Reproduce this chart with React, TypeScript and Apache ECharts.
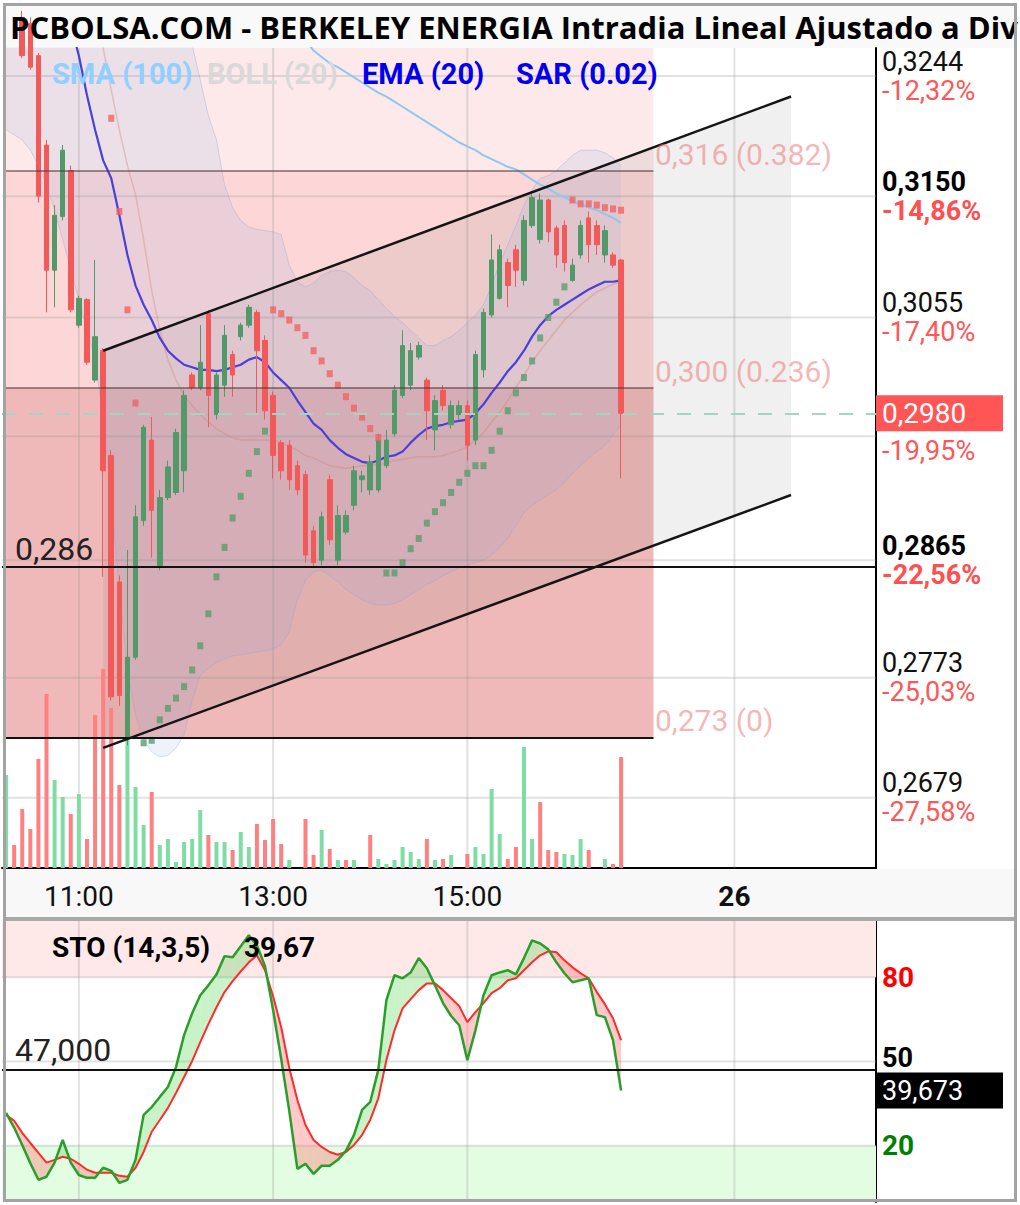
import React, { useEffect, useRef } from "react";
import * as echarts from "echarts";

// ---------- time slots (5-minute candles) ----------
const SLOT_COUNT = 108;
const categories: string[] = [];
for (let i = 0; i < SLOT_COUNT; i++) {
  let m = 10 * 60 + 15 + i * 5;
  let pre = "";
  if (m > 17 * 60 + 30) {
    m = 9 * 60 + (m - (17 * 60 + 35));
    pre = "26 ";
  }
  categories.push(pre + String(Math.floor(m / 60)).padStart(2, "0") + ":" + String(m % 60).padStart(2, "0"));
}
const timeTickIndex = [9, 33, 57, 90];
const timeTickText = ["11:00", "13:00", "15:00", "26"];

// ---------- candles ----------
const opens = [0.3310, 0.3305, 0.3290, 0.3285, 0.3260, 0.3190, 0.3092, 0.3134, 0.3170, 0.3049,
  0.3069, 0.3006, 0.3029, 0.2947, 0.2848, 0.2726, 0.2789, 0.2896, 0.2959, 0.2860,
  0.2914, 0.2918, 0.2935, 0.3010, 0.3000, 0.3058, 0.2979, 0.3002, 0.3026, 0.3040,
  0.3049, 0.3059, 0.3037, 0.2994, 0.2957, 0.2955, 0.2939, 0.2932, 0.2888, 0.2865,
  0.2928, 0.2865, 0.2887, 0.2908, 0.2928, 0.2920, 0.2920, 0.2939, 0.2964, 0.2994,
  0.3002, 0.3024, 0.3006, 0.2967, 0.2998, 0.2971, 0.2979, 0.2986, 0.2959, 0.3014,
  0.3057, 0.3070, 0.3098, 0.3108, 0.3084, 0.3127, 0.3116, 0.3147, 0.3125, 0.3127,
  0.3084, 0.3104, 0.3133, 0.3127, 0.3104, 0.3104, 0.3100];
const closes = [0.3290, 0.3285, 0.3260, 0.3251, 0.3150, 0.3092, 0.3135, 0.3186, 0.3061, 0.3070,
  0.3020, 0.3040, 0.2935, 0.2758, 0.2759, 0.2789, 0.2899, 0.2969, 0.2904, 0.2914,
  0.2938, 0.2965, 0.2994, 0.3000, 0.3020, 0.2994, 0.3010, 0.3041, 0.3010, 0.3049,
  0.3063, 0.3029, 0.2982, 0.2947, 0.2935, 0.2928, 0.2920, 0.2869, 0.2863, 0.2899,
  0.2881, 0.2900, 0.2900, 0.2935, 0.2931, 0.2942, 0.2959, 0.2959, 0.2998, 0.3033,
  0.3029, 0.3033, 0.2982, 0.2990, 0.2986, 0.2986, 0.2986, 0.2955, 0.3026, 0.3059,
  0.3100, 0.3108, 0.3080, 0.3092, 0.3131, 0.3149, 0.3147, 0.3122, 0.3104, 0.3098,
  0.3096, 0.3127, 0.3112, 0.3112, 0.3123, 0.3096, 0.2980];
const lows = [0.3285, 0.3280, 0.3258, 0.3249, 0.3145, 0.3059, 0.3063, 0.3131, 0.3059, 0.3047,
  0.3018, 0.3004, 0.2852, 0.2755, 0.2751, 0.2720, 0.2787, 0.2892, 0.2867, 0.2857,
  0.2912, 0.2916, 0.2918, 0.2998, 0.2998, 0.2969, 0.2975, 0.2993, 0.2993, 0.3037,
  0.3047, 0.2980, 0.2975, 0.2929, 0.2928, 0.2920, 0.2916, 0.2863, 0.2860, 0.2861,
  0.2877, 0.2861, 0.2885, 0.2904, 0.2918, 0.2916, 0.2918, 0.2937, 0.2962, 0.2992,
  0.2998, 0.3022, 0.2959, 0.2951, 0.2982, 0.2968, 0.2975, 0.2943, 0.2955, 0.3008,
  0.3055, 0.3069, 0.3063, 0.3079, 0.3080, 0.3125, 0.3113, 0.3114, 0.3094, 0.3091,
  0.3083, 0.3101, 0.3098, 0.3104, 0.3098, 0.3094, 0.2929];
const highs = [0.3315, 0.3310, 0.3295, 0.3290, 0.3262, 0.3194, 0.3143, 0.3190, 0.3174, 0.3072,
  0.3070, 0.3100, 0.3031, 0.2951, 0.2853, 0.2873, 0.2908, 0.2971, 0.2977, 0.2920,
  0.2943, 0.2968, 0.2998, 0.3012, 0.3049, 0.3061, 0.3012, 0.3049, 0.3029, 0.3051,
  0.3065, 0.3061, 0.3041, 0.2997, 0.2959, 0.2959, 0.2943, 0.2935, 0.2892, 0.2903,
  0.2932, 0.2908, 0.2904, 0.2939, 0.2935, 0.2947, 0.2964, 0.2967, 0.3002, 0.3045,
  0.3035, 0.3036, 0.3008, 0.2994, 0.3002, 0.2990, 0.2990, 0.2990, 0.3029, 0.3062,
  0.3120, 0.3112, 0.3101, 0.3112, 0.3135, 0.3152, 0.3152, 0.3148, 0.3127, 0.3131,
  0.3101, 0.3131, 0.3138, 0.3131, 0.3127, 0.3106, 0.3101];

// ---------- volume (thousands) ----------
const volumes = [93, 23, 59, 39, 109, 174, 88, 71, 54, 74,
  29, 153, 199, 160, 83, 129, 81, 43, 76, 23,
  29, 6, 26, 29, 58, 33, 26, 26, 18, 36,
  21, 44, 28, 49, 24, 8, 0, 49, 13, 38,
  19, 8, 8, 8, 0, 33, 9, 4, 8, 21,
  16, 9, 29, 8, 9, 13, 0, 14, 21, 14,
  79, 34, 9, 21, 121, 29, 66, 18, 16, 14,
  13, 29, 18, 0, 9, 4, 111];
const volumeDir = ("uddddduudu" + "ddddduuudu" + "uuuuuduudu" + "udddduuddu" + "duduuduuuu" +
  "uududuuduu" + "uudduudddu" + "uuduudd").split("");

// ---------- indicators ----------
const bollUpper = [0.3600, 0.3590, 0.3580, 0.3570, 0.3560, 0.3550, 0.3540, 0.3530, 0.3515, 0.3500,
  0.3485, 0.3470, 0.3455, 0.3440, 0.3425, 0.3410, 0.3395, 0.3380, 0.3365, 0.3350,
  0.3330, 0.3310, 0.3288, 0.3268, 0.3241, 0.3213, 0.3194, 0.3159, 0.3141, 0.3131,
  0.3126, 0.3124, 0.3123, 0.3122, 0.3120, 0.3096, 0.3083, 0.3079, 0.3082, 0.3088,
  0.3091, 0.3092, 0.3091, 0.3086, 0.3080, 0.3076, 0.3069, 0.3062, 0.3056, 0.3051,
  0.3045, 0.3039, 0.3033, 0.3033, 0.3037, 0.3040, 0.3045, 0.3051, 0.3057, 0.3065,
  0.3080, 0.3098, 0.3112, 0.3127, 0.3143, 0.3155, 0.3164, 0.3166, 0.3170, 0.3176,
  0.3182, 0.3186, 0.3186, 0.3186, 0.3184, 0.3180, 0.3174];
const bollLower = [0.3202, 0.3198, 0.3194, 0.3186, 0.3174, 0.3159, 0.3139, 0.3116, 0.3092, 0.3069,
  0.3045, 0.3022, 0.2975, 0.2912, 0.2842, 0.2779, 0.2744, 0.2724, 0.2715, 0.2711,
  0.2712, 0.2718, 0.2728, 0.2755, 0.2775, 0.2780, 0.2785, 0.2788, 0.2790, 0.2791,
  0.2792, 0.2793, 0.2794, 0.2795, 0.2799, 0.2809, 0.2834, 0.2849, 0.2856, 0.2857,
  0.2853, 0.2848, 0.2842, 0.2838, 0.2834, 0.2831, 0.2830, 0.2830, 0.2831, 0.2834,
  0.2838, 0.2842, 0.2846, 0.2849, 0.2853, 0.2856, 0.2859, 0.2861, 0.2863, 0.2865,
  0.2869, 0.2875, 0.2882, 0.2892, 0.2902, 0.2908, 0.2912, 0.2916, 0.2920, 0.2926,
  0.2933, 0.2939, 0.2945, 0.2950, 0.2955, 0.2963, 0.2971];
const bollMiddle = [0.3400, 0.3395, 0.3390, 0.3383, 0.3375, 0.3365, 0.3352, 0.3340, 0.3327, 0.3313,
  0.3298, 0.3283, 0.3266, 0.3233, 0.3202, 0.3174, 0.3151, 0.3116, 0.3076, 0.3045,
  0.3022, 0.3006, 0.2994, 0.2986, 0.2979, 0.2973, 0.2968, 0.2964, 0.2961, 0.2959,
  0.2959, 0.2959, 0.2959, 0.2959, 0.2957, 0.2954, 0.2951, 0.2947, 0.2945, 0.2942,
  0.2939, 0.2938, 0.2937, 0.2938, 0.2939, 0.2939, 0.2940, 0.2941, 0.2943, 0.2944,
  0.2945, 0.2946, 0.2946, 0.2946, 0.2947, 0.2949, 0.2951, 0.2954, 0.2959, 0.2965,
  0.2973, 0.2981, 0.2990, 0.3000, 0.3010, 0.3020, 0.3029, 0.3037, 0.3045, 0.3053,
  0.3059, 0.3065, 0.3070, 0.3075, 0.3078, 0.3081, 0.3083];
const ema20 = [0.3405, 0.3390, 0.3375, 0.3360, 0.3345, 0.3330, 0.3315, 0.3300, 0.3284, 0.3260,
  0.3229, 0.3202, 0.3178, 0.3164, 0.3135, 0.3104, 0.3080, 0.3065, 0.3053, 0.3039,
  0.3029, 0.3023, 0.3018, 0.3016, 0.3014, 0.3014, 0.3013, 0.3014, 0.3016, 0.3018,
  0.3022, 0.3024, 0.3020, 0.3012, 0.3006, 0.3000, 0.2990, 0.2981, 0.2972, 0.2967,
  0.2959, 0.2953, 0.2948, 0.2945, 0.2942, 0.2941, 0.2943, 0.2946, 0.2947, 0.2950,
  0.2957, 0.2963, 0.2968, 0.2970, 0.2971, 0.2973, 0.2974, 0.2975, 0.2980, 0.2987,
  0.2996, 0.3004, 0.3013, 0.3020, 0.3029, 0.3040, 0.3049, 0.3056, 0.3061, 0.3065,
  0.3069, 0.3073, 0.3077, 0.3080, 0.3083, 0.3083, 0.3084];
const sma100 = [null, null, null, null, null, null, null, null, null, null,
  null, null, null, null, null, null, null, null, null, null,
  null, null, null, null, null, null, null, null, null, null,
  0.3300, 0.3296, 0.3292, 0.3288, 0.3284, 0.3280, 0.3276, 0.3272, 0.3264, 0.3259,
  0.3254, 0.3251, 0.3247, 0.3243, 0.3239, 0.3235, 0.3231, 0.3228, 0.3224, 0.3220,
  0.3216, 0.3212, 0.3208, 0.3204, 0.3200, 0.3196, 0.3192, 0.3189, 0.3186, 0.3182,
  0.3179, 0.3176, 0.3173, 0.3171, 0.3167, 0.3163, 0.3159, 0.3156, 0.3152, 0.3149,
  0.3146, 0.3144, 0.3141, 0.3139, 0.3136, 0.3133, 0.3129];
const sar = [null, null, null, null, null, null, null, null, null, null,
  null, null, null, 0.3211, 0.3138, 0.3061, 0.2988, 0.2722, 0.2724, 0.2740,
  0.2749, 0.2757, 0.2766, 0.2779, 0.2798, 0.2823, 0.2852, 0.2875, 0.2898, 0.2915,
  0.2933, 0.2950, 0.2966, 0.3061, 0.3058, 0.3053, 0.3047, 0.3041, 0.3029, 0.3021,
  0.3011, 0.3002, 0.2993, 0.2984, 0.2977, 0.2968, 0.2961, 0.2855, 0.2855, 0.2863,
  0.2874, 0.2882, 0.2894, 0.2903, 0.2910, 0.2918, 0.2926, 0.2933, 0.2939, 0.2939,
  0.2951, 0.2966, 0.2982, 0.2996, 0.3008, 0.3021, 0.3039, 0.3055, 0.3067, 0.3079,
  0.3147, 0.3144, 0.3144, 0.3143, 0.3141, 0.3140, 0.3139];

// ---------- stochastic ----------
const stochK = [31.7, 26.5, 20.3, 13.8, 7.9, 9.0, 14.0, 22.1, 14.0, 9.6,
  8.6, 8.6, 12.2, 11.1, 6.8, 7.9, 15.0, 31.0, 33.8, 37.4,
  40.9, 48.0, 59.4, 67.2, 73.6, 77.1, 81.0, 87.5, 87.1, 91.0,
  94.9, 91.4, 83.9, 68.3, 50.9, 32.4, 11.8, 13.6, 10.0, 12.9,
  12.9, 15.0, 18.2, 23.9, 32.8, 35.6, 47.0, 71.8, 80.7, 79.6,
  81.7, 86.8, 83.2, 77.1, 70.8, 66.2, 62.9, 50.5, 61.1, 73.6,
  80.7, 81.7, 82.5, 81.0, 86.8, 93.1, 92.0, 89.9, 85.3, 81.4,
  78.2, 78.9, 79.6, 66.5, 65.8, 57.6, 39.673];
const stochD = [31.0, 28.9, 24.6, 21.0, 17.5, 14.0, 15.0, 16.1, 15.4, 13.6,
  11.5, 10.4, 10.4, 10.4, 9.3, 9.0, 12.2, 17.8, 25.0, 29.2,
  33.5, 38.8, 44.5, 50.2, 56.9, 63.3, 69.3, 74.7, 78.6, 82.1,
  85.3, 87.8, 82.5, 73.2, 62.2, 47.7, 36.3, 27.4, 22.1, 19.6,
  17.8, 16.8, 17.8, 20.3, 23.9, 29.2, 36.9, 50.5, 61.1, 68.9,
  72.2, 75.4, 77.8, 77.8, 75.4, 72.5, 69.7, 64.0, 67.6, 70.8,
  74.3, 76.1, 78.9, 79.6, 82.5, 85.3, 87.8, 89.2, 88.9, 86.0,
  83.5, 81.4, 79.6, 74.7, 70.4, 65.4, 57.6];

// ---------- axis ticks / levels ----------
const priceTicks = [0.3244, 0.3150, 0.3055, 0.2962, 0.2865, 0.2773, 0.2679];
const priceTickText = ["0,3244", "0,3150", "0,3055", "0,2962", "0,2865", "0,2773", "0,2679"];
const pctTickText = ["-12,32%", "-14,86%", "-17,40%", "-19,95%", "-22,56%", "-25,03%", "-27,58%"];
const priceTickBold = [false, true, false, false, true, false, false];
const priceTickHidden = [false, false, false, true, false, false, false];
const stochTicks = [20, 50, 80];
const fibLevels = [0.3170, 0.3000, 0.2726];
const fibText = ["0,316 (0.382)", "0,300 (0.236)", "0,273 (0)"];
const fibEndIndex = 80;
const supportLevel = 0.286;
const stochLevel = 47;
const lastPrice = 0.298;
const lastStoch = 39.673;
const channelX = [12, 97];
const channelUpper = [0.3029, 0.3228];
const channelLower = [0.2718, 0.2916];

const RED = "#f25a5a";
const GREEN = "#52996a";
const GRID_COLOR = "rgba(150,150,150,0.28)";

function buildOption(): any {
  const candleData = opens.map((o, i) => [o, closes[i], lows[i], highs[i]]);
  const volData = volumes.map((v, i) => ({
    value: v,
    itemStyle: { color: volumeDir[i] === "u" ? "#7fdca4" : "#ff8080" },
  }));
  const bandDiff = bollUpper.map((u, i) => +(u - bollLower[i]).toFixed(4));
  const sarData: any[] = [];
  sar.forEach((v, i) => {
    if (v != null) sarData.push({ value: [i, v], itemStyle: { color: v > closes[i] ? "#f26262" : "#5a9c6e" } });
  });
  const nulls = closes.map(() => null);

  const hGridRender = (ticks: number[]) => (params: any, api: any) => {
    const cs = params.coordSys;
    const y = api.coord([0, ticks[params.dataIndex]])[1];
    return { type: "line", shape: { x1: cs.x, y1: y, x2: cs.x + cs.width, y2: y }, style: { stroke: GRID_COLOR, lineWidth: 2 } };
  };
  const vGridRender = (yRef: number) => (params: any, api: any) => {
    const cs = params.coordSys;
    const x = api.coord([timeTickIndex[params.dataIndex], yRef])[0];
    return { type: "line", shape: { x1: x, y1: cs.y, x2: x, y2: cs.y + cs.height }, style: { stroke: GRID_COLOR, lineWidth: 2 } };
  };

  const priceFormatter = (v: number) => {
    const idx = priceTicks.findIndex((t) => Math.abs(t - v) < 1e-7);
    if (idx < 0) return "";
    const b = priceTickBold[idx];
    const top = priceTickHidden[idx] ? "{p| }" : `{${b ? "pb" : "p"}|${priceTickText[idx]}}`;
    return `${top}\n{${b ? "qb" : "q"}|${pctTickText[idx]}}`;
  };

  const FONT = "Roboto";

  return {
    animation: false,
    backgroundColor: "#ffffff",
    textStyle: { fontFamily: FONT },
    grid: [
      { left: 2, right: 144, top: 48, bottom: 337 },
      { left: 2, right: 144, top: 921, bottom: 3 },
    ],
    xAxis: [
      {
        gridIndex: 0, type: "category", data: categories, boundaryGap: true,
        axisLine: { onZero: false, lineStyle: { color: "#000", width: 2 } },
        axisTick: { show: false }, splitLine: { show: false },
        axisLabel: {
          interval: (i: number) => timeTickIndex.indexOf(i) >= 0,
          formatter: (_v: string, i: number) => {
            const k = timeTickIndex.indexOf(i);
            if (k < 0) return "";
            return timeTickText[k] === "26" ? `{b|${timeTickText[k]}}` : `{n|${timeTickText[k]}}`;
          },
          margin: 14,
          rich: {
            n: { fontSize: 28, color: "#111", fontFamily: FONT },
            b: { fontSize: 28, color: "#111", fontWeight: "bold", fontFamily: FONT },
          },
        },
      },
      {
        gridIndex: 1, type: "category", data: categories, boundaryGap: true,
        axisLine: { show: false }, axisTick: { show: false }, axisLabel: { show: false }, splitLine: { show: false },
      },
    ],
    yAxis: [
      {
        gridIndex: 0, type: "value", position: "right", min: 0.2624, max: 0.3266,
        axisLine: { show: true, lineStyle: { color: "#000", width: 2 } },
        axisTick: { show: false }, splitLine: { show: false },
        axisLabel: {
          customValues: priceTicks, margin: 6, formatter: priceFormatter,
          rich: {
            p: { fontSize: 27, color: "#111", lineHeight: 29, fontFamily: FONT },
            pb: { fontSize: 27, color: "#000", lineHeight: 29, fontWeight: "bold", fontFamily: FONT },
            q: { fontSize: 27, color: "#ff5757", lineHeight: 29, fontFamily: FONT },
            qb: { fontSize: 27, color: "#ff4f4f", lineHeight: 29, fontWeight: "bold", fontFamily: FONT },
          },
        },
      },
      { gridIndex: 0, type: "value", min: 0, max: 820, show: false },
      {
        gridIndex: 1, type: "value", position: "right", min: 0, max: 100,
        axisLine: { show: true, lineStyle: { color: "#000", width: 2 } },
        axisTick: { show: false }, splitLine: { show: false },
        axisLabel: {
          customValues: stochTicks, margin: 6,
          formatter: (v: number) => (v === 80 ? "{r|80}" : v === 50 ? "{k|50}" : "{g|20}"),
          rich: {
            r: { fontSize: 28, color: "#ff0000", fontWeight: "bold", fontFamily: FONT, lineHeight: 22 },
            k: { fontSize: 27, color: "#000", fontWeight: "bold", fontFamily: FONT, lineHeight: 20, padding: [0, 0, 8, 0] },
            g: { fontSize: 28, color: "#008000", fontWeight: "bold", fontFamily: FONT, lineHeight: 22 },
          },
        },
      },
    ],
    series: [
      // Fibonacci zones (background)
      {
        type: "line", xAxisIndex: 0, yAxisIndex: 0, data: nulls, silent: true, symbol: "none",
        markArea: {
          silent: true,
          data: [
            [{ xAxis: 0, yAxis: fibLevels[0], itemStyle: { color: "#fde9e9" } }, { xAxis: fibEndIndex, yAxis: 0.3266 }],
            [{ xAxis: 0, yAxis: fibLevels[1], itemStyle: { color: "#fdd7d7" } }, { xAxis: fibEndIndex, yAxis: fibLevels[0] }],
            [{ xAxis: 0, yAxis: fibLevels[2], itemStyle: { color: "#f0b9b9" } }, { xAxis: fibEndIndex, yAxis: fibLevels[1] }],
          ],
        },
      },
      // grid lines main
      {
        type: "custom", xAxisIndex: 0, yAxisIndex: 0, z: 2, silent: true,
        data: priceTicks.map((t) => [0, t]), encode: { x: 0, y: 1 },
        renderItem: hGridRender(priceTicks),
      },
      {
        type: "custom", xAxisIndex: 0, yAxisIndex: 0, z: 2, silent: true,
        data: timeTickIndex.map((t) => [t, 0.29]), encode: { x: 0, y: 1 },
        renderItem: vGridRender(0.29),
      },
      // channel fill
      {
        type: "custom", xAxisIndex: 0, yAxisIndex: 0, z: 2, silent: true,
        data: [[channelX[0], channelUpper[0]]], encode: { x: 0, y: 1 },
        renderItem: (_p: any, api: any) => ({
          type: "polygon",
          shape: {
            points: [
              api.coord([channelX[0], channelUpper[0]]),
              api.coord([channelX[1], channelUpper[1]]),
              api.coord([channelX[1], channelLower[1]]),
              api.coord([channelX[0], channelLower[0]]),
            ],
          },
          style: { fill: "rgba(70,70,70,0.08)" },
        }),
      },
      // Bollinger fill
      {
        name: "BOLL low", type: "line", xAxisIndex: 0, yAxisIndex: 0, stack: "boll", z: 2, silent: true,
        data: bollLower, symbol: "none", lineStyle: { color: "rgba(140,160,220,0.35)", width: 1 },
      },
      {
        name: "BOLL band", type: "line", xAxisIndex: 0, yAxisIndex: 0, stack: "boll", z: 2, silent: true,
        data: bandDiff, symbol: "none", lineStyle: { color: "rgba(140,160,220,0.35)", width: 1 },
        areaStyle: { color: "rgba(125,160,225,0.2)" },
      },
      {
        name: "BOLL mid", type: "line", xAxisIndex: 0, yAxisIndex: 0, z: 3, silent: true,
        data: bollMiddle, symbol: "none", lineStyle: { color: "rgba(205,130,110,0.35)", width: 1.5 },
      },
      // volume
      {
        name: "Volumen", type: "bar", xAxisIndex: 0, yAxisIndex: 1, z: 3, barWidth: 4, silent: true,
        data: volData,
      },
      // candles
      {
        name: "BKY", type: "candlestick", xAxisIndex: 0, yAxisIndex: 0, z: 4, barWidth: 5,
        data: candleData,
        itemStyle: { color: GREEN, color0: RED, borderColor: GREEN, borderColor0: RED, borderWidth: 1 },
      },
      {
        name: "SMA (100)", type: "line", xAxisIndex: 0, yAxisIndex: 0, z: 4, data: sma100, symbol: "none",
        lineStyle: { color: "#8ec8f0", width: 2 }, connectNulls: false,
      },
      {
        name: "EMA (20)", type: "line", xAxisIndex: 0, yAxisIndex: 0, z: 4, data: ema20, symbol: "none",
        lineStyle: { color: "#4b3fdc", width: 2.2 },
      },
      {
        name: "SAR (0.02)", type: "scatter", xAxisIndex: 0, yAxisIndex: 0, z: 4, data: sarData,
        symbol: "rect", symbolSize: [6, 7],
      },
      // overlay lines
      {
        type: "line", xAxisIndex: 0, yAxisIndex: 0, data: nulls, silent: true, symbol: "none",
        markLine: {
          silent: true, symbol: ["none", "none"], label: { show: false }, precision: 5,
          data: [
            [{ xAxis: 0, yAxis: fibLevels[0], lineStyle: { color: "rgba(80,60,60,0.55)", width: 2, type: "solid" } }, { xAxis: fibEndIndex, yAxis: fibLevels[0] }],
            [{ xAxis: 0, yAxis: fibLevels[1], lineStyle: { color: "rgba(80,60,60,0.55)", width: 2, type: "solid" } }, { xAxis: fibEndIndex, yAxis: fibLevels[1] }],
            [{ xAxis: 0, yAxis: fibLevels[2], lineStyle: { color: "#111", width: 2, type: "solid" } }, { xAxis: fibEndIndex, yAxis: fibLevels[2] }],
            { yAxis: supportLevel, lineStyle: { color: "#111", width: 2, type: "solid" } },
            [{ xAxis: channelX[0], yAxis: channelUpper[0], lineStyle: { color: "#151515", width: 2.5, type: "solid" } }, { xAxis: channelX[1], yAxis: channelUpper[1] }],
            [{ xAxis: channelX[0], yAxis: channelLower[0], lineStyle: { color: "#151515", width: 2.5, type: "solid" } }, { xAxis: channelX[1], yAxis: channelLower[1] }],
            {
              yAxis: lastPrice,
              lineStyle: { color: "#a3d6c2", width: 2, type: [14, 13] },
              label: {
                show: true, position: "end", distance: 0, formatter: "0,2980",
                backgroundColor: "#ff5555", color: "#fff", fontSize: 28, fontFamily: FONT,
                padding: [5, 8, 3, 6], width: 113,
              },
            },
          ],
        },
      },
      // ---------- stochastic panel ----------
      {
        type: "line", xAxisIndex: 1, yAxisIndex: 2, data: nulls, silent: true, symbol: "none",
        markArea: {
          silent: true,
          data: [
            [{ yAxis: 80, itemStyle: { color: "#ffe8e8" } }, { yAxis: 100 }],
            [{ yAxis: 0, itemStyle: { color: "#e2fde2" } }, { yAxis: 20 }],
          ],
        },
      },
      {
        type: "custom", xAxisIndex: 1, yAxisIndex: 2, z: 2, silent: true,
        data: stochTicks.map((t) => [0, t]), encode: { x: 0, y: 1 },
        renderItem: hGridRender(stochTicks),
      },
      {
        type: "custom", xAxisIndex: 1, yAxisIndex: 2, z: 2, silent: true,
        data: timeTickIndex.map((t) => [t, 50]), encode: { x: 0, y: 1 },
        renderItem: vGridRender(50),
      },
      {
        type: "custom", xAxisIndex: 1, yAxisIndex: 2, z: 2, silent: true,
        data: stochK.slice(0, -1).map((k, i) => [i, k]), encode: { x: 0, y: 1 },
        renderItem: (params: any, api: any) => {
          const i = params.dataIndex;
          const k0 = stochK[i], d0 = stochD[i], k1 = stochK[i + 1], d1 = stochD[i + 1];
          const a = api.coord([i, k0]), b = api.coord([i + 1, k1]);
          const c = api.coord([i + 1, d1]), d = api.coord([i, d0]);
          const s0 = k0 - d0, s1 = k1 - d1;
          const G = "rgba(90,215,90,0.33)", R = "rgba(255,105,105,0.36)";
          if (s0 * s1 >= 0) {
            return { type: "polygon", shape: { points: [a, b, c, d] }, style: { fill: s0 + s1 >= 0 ? G : R } };
          }
          const t = s0 / (s0 - s1);
          const X = [a[0] + (b[0] - a[0]) * t, a[1] + (b[1] - a[1]) * t];
          return {
            type: "group",
            children: [
              { type: "polygon", shape: { points: [a, X, d] }, style: { fill: s0 > 0 ? G : R } },
              { type: "polygon", shape: { points: [X, b, c] }, style: { fill: s1 > 0 ? G : R } },
            ],
          };
        },
      },
      {
        name: "%D", type: "line", xAxisIndex: 1, yAxisIndex: 2, z: 3, data: stochD, symbol: "none",
        lineStyle: { color: "#ff2a2a", width: 2 },
      },
      {
        name: "%K", type: "line", xAxisIndex: 1, yAxisIndex: 2, z: 3, data: stochK, symbol: "none",
        lineStyle: { color: "#2a9e2a", width: 2.5 },
      },
      {
        type: "line", xAxisIndex: 1, yAxisIndex: 2, data: nulls, silent: true, symbol: "none",
        markLine: {
          silent: true, symbol: ["none", "none"], label: { show: false }, precision: 4,
          data: [
            { yAxis: stochLevel, lineStyle: { color: "#111", width: 2, type: "solid" } },
            {
              yAxis: lastStoch,
              lineStyle: { color: "rgba(0,0,0,0)", width: 0 },
              label: {
                show: true, position: "end", distance: 0, formatter: "39,673",
                backgroundColor: "#000", color: "#fff", fontSize: 27, fontFamily: FONT,
                padding: [5, 8, 3, 6], width: 113, lineHeight: 28,
              },
            },
          ],
        },
      },
    ],
    graphic: {
      elements: [
        { type: "rect", z: -10, silent: true, shape: { x: 5, y: 5, width: 1010, height: 43 }, style: { fill: "#f9f9f9" } },
        { type: "rect", z: -10, silent: true, shape: { x: 5, y: 869, width: 1010, height: 49 }, style: { fill: "#f8f8f8" } },
        { type: "rect", z: 50, silent: true, shape: { x: 5, y: 917, width: 1010, height: 4 }, style: { fill: "#a9a9a9" } },
        { type: "rect", z: 60, silent: true, shape: { x: 4.5, y: 4.5, width: 1011, height: 1196 }, style: { fill: "none", stroke: "#a3a3a3", lineWidth: 3 } },
        {
          type: "text", z: 50, silent: true, x: 10, y: 27,
          style: { text: "PCBOLSA.COM - BERKELEY ENERGIA Intradia Lineal Ajustado a Div", font: 'bold 31px "Open Sans"', fill: "#000", verticalAlign: "middle" },
        },
        { type: "text", z: 50, silent: true, x: 52, y: 74, style: { text: "SMA (100)", font: "bold 29px Roboto", fill: "#8fd0ff", verticalAlign: "middle" } },
        { type: "text", z: 50, silent: true, x: 207, y: 74, style: { text: "BOLL (20)", font: "bold 29px Roboto", fill: "#d9d9d9", verticalAlign: "middle" } },
        { type: "text", z: 50, silent: true, x: 362, y: 74, style: { text: "EMA (20)", font: "bold 29px Roboto", fill: "#0000f0", verticalAlign: "middle" } },
        { type: "text", z: 50, silent: true, x: 516, y: 74, style: { text: "SAR (0.02)", font: "bold 29px Roboto", fill: "#0000f0", verticalAlign: "middle" } },
        { type: "text", z: 50, silent: true, x: 655, y: 154, style: { text: fibText[0], font: "30px Roboto", fill: "rgba(236,110,110,0.5)", verticalAlign: "middle" } },
        { type: "text", z: 50, silent: true, x: 655, y: 371, style: { text: fibText[1], font: "30px Roboto", fill: "rgba(236,110,110,0.5)", verticalAlign: "middle" } },
        { type: "text", z: 50, silent: true, x: 655, y: 720, style: { text: fibText[2], font: "30px Roboto", fill: "rgba(236,110,110,0.5)", verticalAlign: "middle" } },
        { type: "text", z: 50, silent: true, x: 15, y: 549, style: { text: "0,286", font: "32px Roboto", fill: "#222", verticalAlign: "middle" } },
        { type: "text", z: 50, silent: true, x: 15, y: 1050, style: { text: "47,000", font: "32px Roboto", fill: "#222", verticalAlign: "middle" } },
        { type: "text", z: 50, silent: true, x: 52, y: 947, style: { text: "STO (14,3,5)", font: "bold 28px Roboto", fill: "#000", verticalAlign: "middle" } },
        { type: "text", z: 50, silent: true, x: 244, y: 947, style: { text: "39,67", font: "bold 28px Roboto", fill: "#000", verticalAlign: "middle" } },
      ],
    },
  };
}

export default function App() {
  const ref = useRef<HTMLDivElement>(null);
  useEffect(() => {
    document.body.style.margin = "0";
    const chart = echarts.init(ref.current as HTMLDivElement, null, { renderer: "svg" });
    chart.setOption(buildOption());
    return () => chart.dispose();
  }, []);
  return <div ref={ref} style={{ position: "absolute", left: 0, top: 0, width: 1020, height: 1205 }} />;
}
